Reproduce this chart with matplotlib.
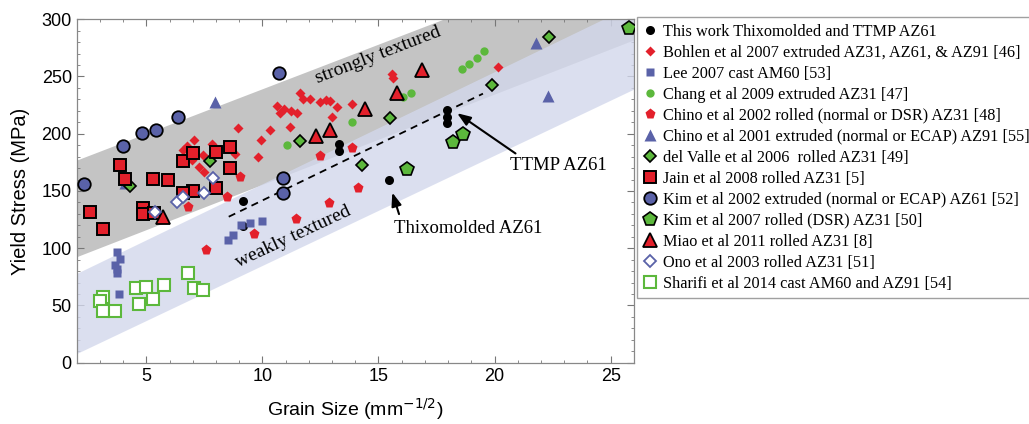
import matplotlib
matplotlib.use('Agg')
import matplotlib.pyplot as plt
from matplotlib.lines import Line2D

# ---- data ----
this_x = [9.17, 9.17, 13.31, 13.31, 15.46, 17.93, 17.93, 17.93]
this_y = [141.3, 119.4, 190.8, 185.0, 159.6, 220.8, 214.9, 209.1]

bohlen_x = [8.95, 7.07, 6.75, 6.58, 7.83, 7.44, 6.98, 7.27, 7.47, 8.84, 9.8, 9.95, 10.32,
            11.21, 10.63, 10.75, 10.95, 11.22, 11.47, 11.61, 11.75, 12.04, 12.47, 12.75,
            12.9, 13.22, 13.88, 12.98, 15.6, 15.63, 20.16]
bohlen_y = [204.8, 194.6, 189.6, 185.8, 190.8, 181.7, 177.1, 170.7, 166.9, 182.3, 180.0, 194.5, 203.3,
            205.5, 224.5, 218.0, 222.0, 220.0, 218.0, 236.0, 230.6, 230.6, 227.5, 229.5,
            229.0, 223.6, 226.0, 214.2, 252.2, 248.4, 258.6]

lee_x = [3.64, 3.74, 3.75, 3.82, 3.88, 3.74, 8.52, 8.74, 9.1, 9.46, 10.0]
lee_y = [85.0, 97.0, 78.6, 60.0, 91.0, 81.6, 107.0, 111.6, 120.0, 122.0, 123.5]

chang_x = [11.04, 13.88, 16.06, 16.38, 18.58, 18.92, 19.26, 19.56]
chang_y = [190.2, 210.5, 232.4, 235.3, 256.3, 260.7, 265.9, 272.3]

chino02_x = [6.8, 7.56, 8.48, 9.03, 9.64, 11.43, 12.47, 12.88, 13.85, 14.13]
chino02_y = [136.3, 98.5, 144.5, 162.5, 112.2, 125.5, 180.6, 139.2, 187.3, 152.3]

chino01_x = [4.07, 7.95, 21.8, 22.3]
chino01_y = [157.0, 227.5, 279.0, 233.0]

valle_x = [4.29, 7.73, 11.64, 14.31, 15.49, 19.87, 22.33]
valle_y = [154.0, 176.5, 193.7, 172.7, 213.5, 242.6, 284.3]

jain_x = [3.85, 4.07, 5.29, 5.92, 6.56, 7.01, 7.99, 8.6, 8.6, 7.99, 7.01, 6.58,
          2.59, 4.86, 4.86, 5.32, 3.13]
jain_y = [172.7, 160.5, 160.5, 159.6, 175.9, 182.9, 183.8, 188.7, 170.4, 152.9, 150.0, 148.0,
          131.9, 134.9, 129.6, 130.5, 116.5]

kim02_x = [2.3, 4.0, 4.8, 5.4, 6.35, 10.7, 10.9, 10.9]
kim02_y = [156.0, 189.0, 201.0, 203.0, 215.0, 253.0, 161.0, 148.5]

kim07_x = [16.24, 18.22, 18.65, 25.8]
kim07_y = [169.0, 192.5, 199.5, 292.7]

miao_x = [5.73, 12.3, 12.91, 14.43, 15.78, 16.86]
miao_y = [127.0, 198.3, 203.3, 221.4, 235.9, 255.7]

ono_x = [5.36, 6.34, 6.58, 7.49, 7.88]
ono_y = [132.0, 140.0, 144.5, 148.5, 161.0]

sharifi_x = [3.13, 2.99, 3.13, 3.64, 4.54, 4.97, 4.67, 5.29, 5.76, 6.81, 7.07, 7.44]
sharifi_y = [57.7, 54.2, 45.4, 45.4, 65.5, 65.9, 51.3, 55.4, 67.9, 78.1, 65.3, 63.5]

# textured bands and trend line
band_x = [2, 26]
strong_lo = [92.6, 282.0]
strong_hi = [177.0, 364.0]
weak_lo = [8.0, 239.0]
weak_hi = [78.0, 313.0]
trend_x = [8.55, 19.5]
trend_y = [127.5, 235.0]

RED = '#e3202b'
BLUE = '#5a62a8'
GREEN = '#5cb83c'

series = [
    ('This work Thixomolded and TTMP AZ61', this_x, this_y, dict(marker='o', color='black', ms=6.5, mec='none')),
    ('Bohlen et al 2007 extruded AZ31, AZ61, & AZ91 [46]', bohlen_x, bohlen_y, dict(marker='D', color=RED, ms=4.8, mec='none')),
    ('Lee 2007 cast AM60 [53]', lee_x, lee_y, dict(marker='s', color=BLUE, ms=5.5, mec='none')),
    ('Chang et al 2009 extruded AZ31 [47]', chang_x, chang_y, dict(marker='o', color=GREEN, ms=6, mec='none')),
    ('Chino et al 2002 rolled (normal or DSR) AZ31 [48]', chino02_x, chino02_y, dict(marker='p', color=RED, ms=8, mec='none')),
    ('Chino et al 2001 extruded (normal or ECAP) AZ91 [55]', chino01_x, chino01_y, dict(marker='^', color=BLUE, ms=8, mec='none')),
    ('del Valle et al 2006  rolled AZ31 [49]', valle_x, valle_y, dict(marker='D', color=GREEN, ms=6.5, mec='black', mew=1.2)),
    ('Jain et al 2008 rolled AZ31 [5]', jain_x, jain_y, dict(marker='s', color=RED, ms=8.5, mec='black', mew=1.4)),
    ('Kim et al 2002 extruded (normal or ECAP) AZ61 [52]', kim02_x, kim02_y, dict(marker='o', color=BLUE, ms=9, mec='black', mew=1.3)),
    ('Kim et al 2007 rolled (DSR) AZ31 [50]', kim07_x, kim07_y, dict(marker='p', color=GREEN, ms=10.5, mec='black', mew=1.2)),
    ('Miao et al 2011 rolled AZ31 [8]', miao_x, miao_y, dict(marker='^', color=RED, ms=10, mec='black', mew=1.3)),
    ('Ono et al 2003 rolled AZ31 [51]', ono_x, ono_y, dict(marker='D', color='white', ms=6.5, mec=BLUE, mew=1.3)),
    ('Sharifi et al 2014 cast AM60 and AZ91 [54]', sharifi_x, sharifi_y, dict(marker='s', color='white', ms=8, mec=GREEN, mew=1.5)),
]

fig = plt.figure(figsize=(10.29, 4.24), dpi=100)
ax = fig.add_axes([0.0745, 0.1446, 0.5415, 0.81])

ax.fill_between(band_x, strong_lo, strong_hi, color='#c4c4c4', lw=0, zorder=1)
ax.fill_between(band_x, weak_lo, weak_hi, color=(211 / 255, 216 / 255, 236 / 255), alpha=0.8, lw=0, zorder=2)
ax.plot(trend_x, trend_y, 'k--', lw=1.3, dashes=(4, 3), zorder=3)

handles = []
for label, xs, ys, st in series:
    ax.plot(xs, ys, ls='none', zorder=5, **st)
    handles.append(Line2D([], [], ls='none', label=label, **st))

serif = 'Liberation Serif'
ax.text(14.98, 268.8, 'strongly textured', rotation=21, ha='center', va='center',
        family=serif, fontsize=14, zorder=4)
ax.text(11.31, 109.7, 'weakly textured', rotation=25, ha='center', va='center',
        family=serif, fontsize=14, zorder=4)

arrow = dict(arrowstyle='-|>,head_length=0.8,head_width=0.3', color='black', lw=1.5)
ax.annotate('', xy=(18.29, 219.3), xytext=(21.0, 181.4), arrowprops=arrow, zorder=6)
ax.text(22.73, 172.0, 'TTMP AZ61', ha='center', va='center', family=serif, fontsize=13.5)
ax.annotate('', xy=(15.56, 150.9), xytext=(15.92, 127.5), arrowprops=arrow, zorder=6)
ax.text(18.85, 117.6, 'Thixomolded AZ61', ha='center', va='center', family=serif, fontsize=13.5)

ax.set_xlim(2, 26)
ax.set_ylim(0, 300)
ax.set_xticks([5, 10, 15, 20, 25])
ax.set_xticks(range(2, 27), minor=True)
ax.set_yticks(range(0, 301, 50))
ax.set_yticks(range(0, 301, 10), minor=True)
ax.tick_params(which='both', direction='in', top=True, right=True, color='#777777')
ax.tick_params(which='major', length=5, width=0.8, labelsize=13)
ax.tick_params(which='minor', length=2.5, width=0.6)
for lbl in ax.get_xticklabels() + ax.get_yticklabels():
    lbl.set_family('Liberation Sans')
for sp in ax.spines.values():
    sp.set_color('#888888')
    sp.set_linewidth(0.9)

ax.set_xlabel('Grain Size (mm$^{-1/2}$)', family='Liberation Sans', fontsize=14, labelpad=8)
ax.set_ylabel('Yield Stress (MPa)', family='Liberation Sans', fontsize=14.5, labelpad=8)

leg = fig.legend(handles=handles, loc='upper left', bbox_to_anchor=(637 / 1029, 1 - 17 / 424),
                 prop={'family': serif, 'size': 11.7}, frameon=True, fancybox=False,
                 edgecolor='#888888', handlelength=0.8, handletextpad=0.4,
                 labelspacing=0.31, borderpad=0.4, borderaxespad=0)
leg.get_frame().set_linewidth(1.0)

plt.savefig('out.png', dpi=100)
